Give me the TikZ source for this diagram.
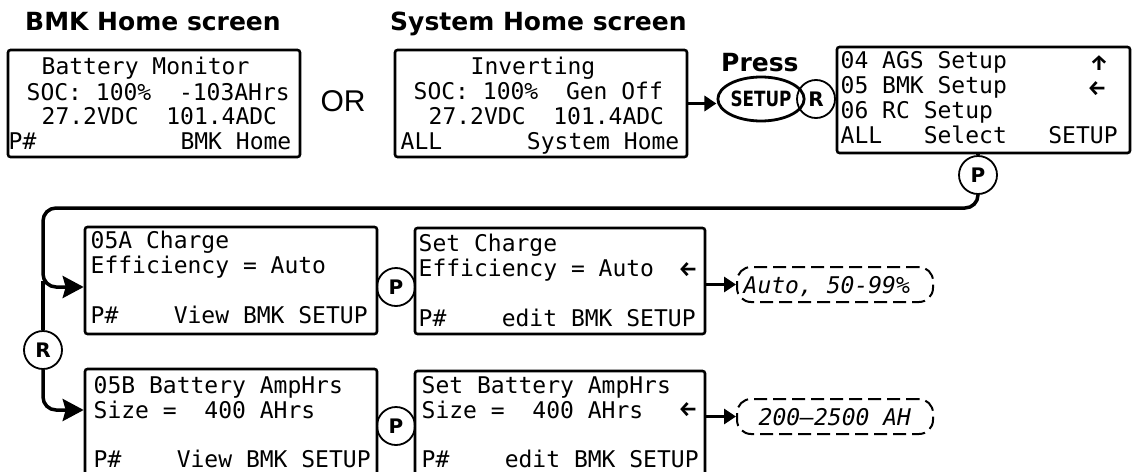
\documentclass[tikz,border=0pt]{standalone}
\usepackage{fontspec}
\usetikzlibrary{arrows.meta,shapes.geometric}
\newfontfamily\monof{DejaVu Sans Mono}
\newfontfamily\dvs{DejaVu Sans}
\newfontfamily\fira{Fira Sans}
\newfontfamily\condf{DejaVu Sans}[FakeStretch=0.8]
\newfontfamily\libs{Liberation Sans}
\tikzset{
  screen/.style={draw, line width=2.6pt, rounded corners=2.5pt, inner sep=0pt},
  ln/.style={anchor=base west, inner sep=0pt, font=\monof\fontsize{23}{25}\selectfont},
  lnr/.style={ln, anchor=base east},
  lni/.style={ln, font=\monof\itshape\fontsize{23}{25}\selectfont},
  arr/.style={inner sep=0pt, font=\fira\bfseries\fontsize{21}{24}\selectfont},
  title/.style={anchor=base west, inner sep=0pt, font=\dvs\bfseries\fontsize{25}{28}\selectfont},
  btn/.style={circle, draw, line width=1.8pt, minimum size=38pt, inner sep=0pt, font=\dvs\bfseries\fontsize{20}{24}\selectfont},
  conn/.style={line width=3.5pt},
  bigtip/.style={-{Stealth[length=21pt,width=22pt,inset=3pt]}},
  smalltip/.style={-{Triangle[length=12pt,width=15pt]}},
  dbox/.style={draw, dash pattern=on 13pt off 6pt, line width=2pt, rounded corners=14pt, inner sep=0pt},
}
\begin{document}
\begin{tikzpicture}[x=1pt,y=-1pt]
\useasboundingbox (0,0) rectangle (1132,471);

% titles
\node[title] (h1) at (25,30) {BMK Home screen};
\node[title] (h2) at (390,30) {System Home screen};
\node[title] (h3) at (721,71) {Press};
\node[font=\libs\fontsize{30}{30}\selectfont, inner sep=0pt] (or) at (343,101) {OR};

% screens
\node[screen, minimum width=292pt, minimum height=107pt] (b1) at (154,103.5) {};
\node[screen, minimum width=292pt, minimum height=107pt] (b2) at (541,103.5) {};
\node[screen, minimum width=293pt, minimum height=106pt] (b3) at (983.5,100) {};
\node[screen, minimum width=292pt, minimum height=107pt] (b4) at (231,280.5) {};
\node[screen, minimum width=290pt, minimum height=106pt] (b5) at (560,281) {};
\node[screen, minimum width=292pt, minimum height=109pt] (b6) at (231,423.5) {};
\node[screen, minimum width=290pt, minimum height=107pt] (b7) at (560,424.5) {};

% screen 1
\node[ln] (b1a) at (41.5,74) {Battery Monitor};
\node[ln] (b1b) at (26.5,100) {SOC: 100\%~~-103AHrs};
\node[ln] (b1c) at (41.5,124) {27.2VDC~~101.4ADC};
\node[ln] (b1d) at (8.5,149) {P\#};
\node[lnr] (b1e) at (291.5,149) {BMK Home};

% screen 2
\node[ln] (b2a) at (470.5,74) {Inverting};
\node[ln] (b2b) at (413.5,99.5) {SOC: 100\%~~Gen Off};
\node[ln] (b2c) at (428.5,124) {27.2VDC~~101.4ADC};
\node[ln] (b2d) at (400.5,149) {ALL};
\node[lnr] (b2e) at (679.5,149) {System Home};

% screen 3
\node[ln] (b3a) at (840.5,68) {04 AGS Setup};
\node[ln] (b3b) at (840.5,93) {05 BMK Setup};
\node[ln] (b3c) at (840.5,118) {06 RC Setup};
\node[ln] (b3d) at (840.5,143) {ALL~~~Select~~~SETUP};
\node[arr] (b3u) at (1099,63) {↑};
\node[arr] (b3l) at (1097,89) {←};

% screen 4
\node[ln] (b4a) at (90.5,248) {05A Charge};
\node[ln] (b4b) at (90.5,273) {Efficiency = Auto};
\node[ln] (b4c) at (90.5,323) {P\#~~~~View BMK SETUP};

% screen 5
\node[ln] (b5a) at (418.5,251) {Set Charge};
\node[ln] (b5b) at (418.5,276) {Efficiency = Auto};
\node[ln] (b5c) at (418.5,326) {P\#~~~~edit BMK SETUP};
\node[arr] (b5l) at (688,270) {←};

% screen 6
\node[ln] (b6a) at (93.5,393) {05B Battery AmpHrs};
\node[ln] (b6b) at (93.5,418) {Size =~~400 AHrs};
\node[ln] (b6c) at (93.5,467) {P\#~~~~View BMK SETUP};

% screen 7
\node[ln] (b7a) at (421.5,393) {Set Battery AmpHrs};
\node[ln] (b7b) at (421.5,418) {Size =~~400 AHrs};
\node[ln] (b7c) at (421.5,467) {P\#~~~~edit BMK SETUP};
\node[arr] (b7l) at (688,410) {←};

% buttons
\node[ellipse, draw, line width=2.8pt, minimum width=78pt, minimum height=44pt, inner sep=0pt,
      font=\condf\bfseries\fontsize{21}{24}\selectfont] (setup) at (761,99) {SETUP};
\node[btn] (r0) at (816,99) {R};
\node[btn] (p1) at (978,175) {P};
\node[btn] (r1) at (43,350) {R};
\node[btn] (p2) at (396,287) {P};
\node[btn] (p3) at (396,426) {P};

% range boxes
\node[dbox, minimum width=196pt, minimum height=35pt] (d1) at (835,284.5) {};
\node[lni] (t1) at (743.5,293) {Auto, 50-99\%};
\node[dbox, minimum width=196pt, minimum height=35pt] (d2) at (835,416.5) {};
\node[lni] (t2) at (758.5,425) {200–2500 AH};

% connectors
\coordinate (c1) at (43,208);
\draw[conn, smalltip] (b2.east) -- (b2.east -| setup.west);
\draw[conn] (p1.north) -- (p1.north |- b3.south);
\draw[conn, rounded corners=13pt, bigtip] (p1.south) |- (c1) |- ([yshift=-6.5pt]b4.west);
\draw[conn] (r1.north) -- (r1.north |- b4.west);
\draw[conn, rounded corners=13pt, bigtip] (r1.south) |- ([yshift=13.5pt]b6.west);
\draw[line width=3.8pt, smalltip] (b5.east |- d1.west) -- (d1.west);
\draw[line width=3.8pt, smalltip] (b7.east |- d2.west) -- (d2.west);
\end{tikzpicture}
\end{document}
